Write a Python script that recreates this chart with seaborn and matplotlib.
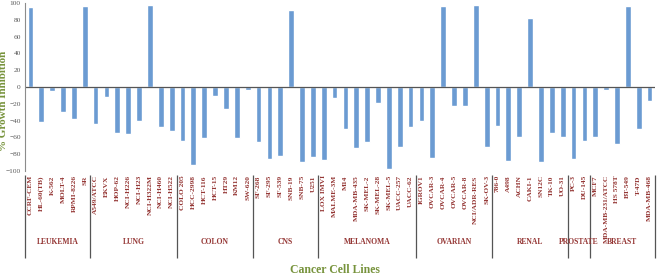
import matplotlib
matplotlib.use("Agg")
import matplotlib.pyplot as plt
import seaborn as sns
import pandas as pd

# panel groups and how many cell lines each one holds
groups = ["LEUKEMIA", "LUNG", "COLON", "CNS", "MELANOMA", "OVARIAN", "RENAL", "PROSTATE", "BREAST"]
group_sizes = [6, 8, 7, 6, 9, 7, 7, 2, 6]

cell_lines = [
    "CCRF-CEM", "HL-60(TB)", "K-562", "MOLT-4", "RPMI-8226", "SR",
    "A549/ATCC", "EKVX", "HOP-62", "NCI-H226", "NCI-H23", "NCI-H322M", "NCI-H460", "NCI-H522",
    "COLO 205", "HCC-2998", "HCT-116", "HCT-15", "HT29", "KM12", "SW-620",
    "SF-268", "SF-295", "SF-539", "SNB-19", "SNB-75", "U251",
    "LOX IMVI", "MALME-3M", "M14", "MDA-MB-435", "SK-MEL-2", "SK-MEL-28", "SK-MEL-5", "UACC-257", "UACC-62",
    "IGROV1", "OVCAR-3", "OVCAR-4", "OVCAR-5", "OVCAR-8", "NCI/ADR-RES", "SK-OV-3",
    "786-0", "A498", "ACHN", "CAKI-1", "SN12C", "TK-10", "UO-31",
    "PC-3", "DU-145",
    "MCF7", "MDA-MB-231/ATCC", "HS 578T", "BT-549", "T-47D", "MDA-MB-468",
]

inhibition = [
    95, -42, -5, -30, -38, 97,
    -44, -12, -55, -56, -41, 98, -48, -52,
    -64, -93, -61, -11, -26, -61, -3,
    -66, -86, -82, 92, -89, -83,
    -87, -13, -50, -73, -65, -19, -98, -71, -48,
    -41, -84, 96, -23, -23, 98, -72,
    -47, -88, -59, 82, -89, -55, -60,
    -86, -64,
    -59, -4, -68, 96, -50, -17,
]

df = pd.DataFrame({"cell": cell_lines, "value": inhibition})

sns.set_style("white")
plt.rcParams["font.family"] = ["Liberation Serif", "DejaVu Serif"]

W, H = 658, 279
fig = plt.figure(figsize=(W / 100, H / 100), dpi=100)
ax = fig.add_axes([25 / W, (H - 171) / H, 630 / W, 168 / H])

sns.barplot(data=df, x="cell", y="value", color="#6b9bd2", width=0.53,
            saturation=1, ax=ax)

ax.set_ylim(-100, 100)
ax.set_xlim(-0.5, len(cell_lines) - 0.5)
ax.set_yticks(range(-100, 101, 20))
ax.axhline(0, color="#555555", lw=0.9)

for s in ["top", "right", "bottom"]:
    ax.spines[s].set_visible(False)
ax.spines["left"].set_color("#8c8c8c")
ax.spines["left"].set_linewidth(0.8)

ax.tick_params(axis="y", labelsize=5.3, colors="#595959", length=2, width=0.6, pad=1)
ax.tick_params(axis="x", length=0, pad=3)
ax.set_xticks(range(len(cell_lines)))
ax.set_xticklabels(cell_lines, rotation=90, fontsize=5.3, color="#953735",
                   fontweight="bold", va="top", ha="center")
ax.set_xlabel("")
ax.set_ylabel("")

# group separators and group names under the cell line labels
trans = ax.get_xaxis_transform()
start = 0
edges = [-0.5]
for g, n in zip(groups, group_sizes):
    mid = start + (n - 1) / 2
    ax.text(mid, -0.423, g, transform=trans, ha="center", va="center",
            fontsize=5.5, color="#953735", fontweight="bold")
    start += n
    edges.append(start - 0.5)
ax.vlines(edges, -0.518, -0.024, transform=trans, colors="#555555",
          lw=0.9, clip_on=False)

fig.text(4 / W, 1 - 101 / H, "% Growth Inhibition", rotation=90, ha="center",
         va="center", fontsize=8, fontweight="bold", color="#77933c")
fig.text(335 / W, 1 - 270 / H, "Cancer Cell Lines", ha="center", va="center",
         fontsize=8.5, fontweight="bold", color="#77933c")

fig.savefig("out.png", dpi=100)
